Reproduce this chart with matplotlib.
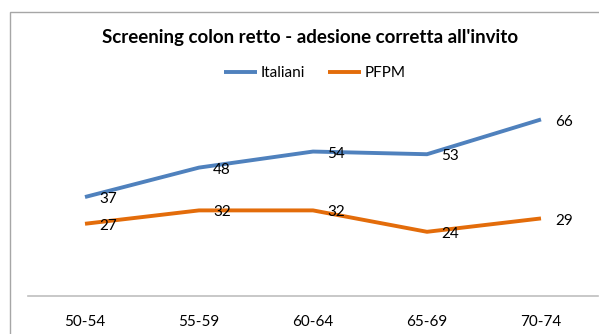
import matplotlib
matplotlib.use('Agg')
import matplotlib.pyplot as plt
from matplotlib.patches import Rectangle

categories = ['50-54', '55-59', '60-64', '65-69', '70-74']
italiani = [37, 48, 54, 53, 66]
pfpm = [27, 32, 32, 24, 29]

plt.rcParams['font.family'] = ['Lato', 'DejaVu Sans']

fig = plt.figure(figsize=(5.99, 3.34), dpi=100)
# chart border (clipped at right and bottom)
fig.patches.append(Rectangle((10 / 599, -0.1), 1.2, (334 - 12) / 334 + 0.1,
                             transform=fig.transFigure, fill=False,
                             edgecolor='#a6a6a6', linewidth=1))

ax = fig.add_axes([28 / 599, 38 / 334, 570 / 599, 214 / 334])
x = range(len(categories))
ax.plot(x, italiani, color='#4f81bd', lw=2.8, label='Italiani', solid_capstyle='butt')
ax.plot(x, pfpm, color='#e36c0a', lw=2.8, label='PFPM', solid_capstyle='butt')

for i, v in enumerate(italiani):
    ax.annotate(str(v), (i, v), xytext=(10, -1.5), textcoords='offset points',
                ha='left', va='center', fontsize=11, color='#000000')
for i, v in enumerate(pfpm):
    ax.annotate(str(v), (i, v), xytext=(10, -1.5), textcoords='offset points',
                ha='left', va='center', fontsize=11, color='#000000')

ax.set_xlim(-0.5, 4.5)
ax.set_ylim(0, 80)
ax.set_xticks(list(x))
ax.set_xticklabels(categories, fontsize=11)
ax.tick_params(axis='x', length=0, pad=14)
ax.set_yticks([])
for s in ['top', 'right', 'left']:
    ax.spines[s].set_visible(False)
ax.spines['bottom'].set_color('#bfbfbf')
ax.spines['bottom'].set_linewidth(1.2)

fig.text(0.517, 1 - 38 / 334, "Screening colon retto - adesione corretta all'invito",
         ha='center', va='center', fontsize=13.5, fontweight='bold')
fig.legend(loc='center', bbox_to_anchor=(0.525, 1 - 73 / 334), ncol=2, frameon=False,
           fontsize=11, handlelength=2.2, handletextpad=0.2, columnspacing=1.5)

fig.savefig('out.png', dpi=100)
